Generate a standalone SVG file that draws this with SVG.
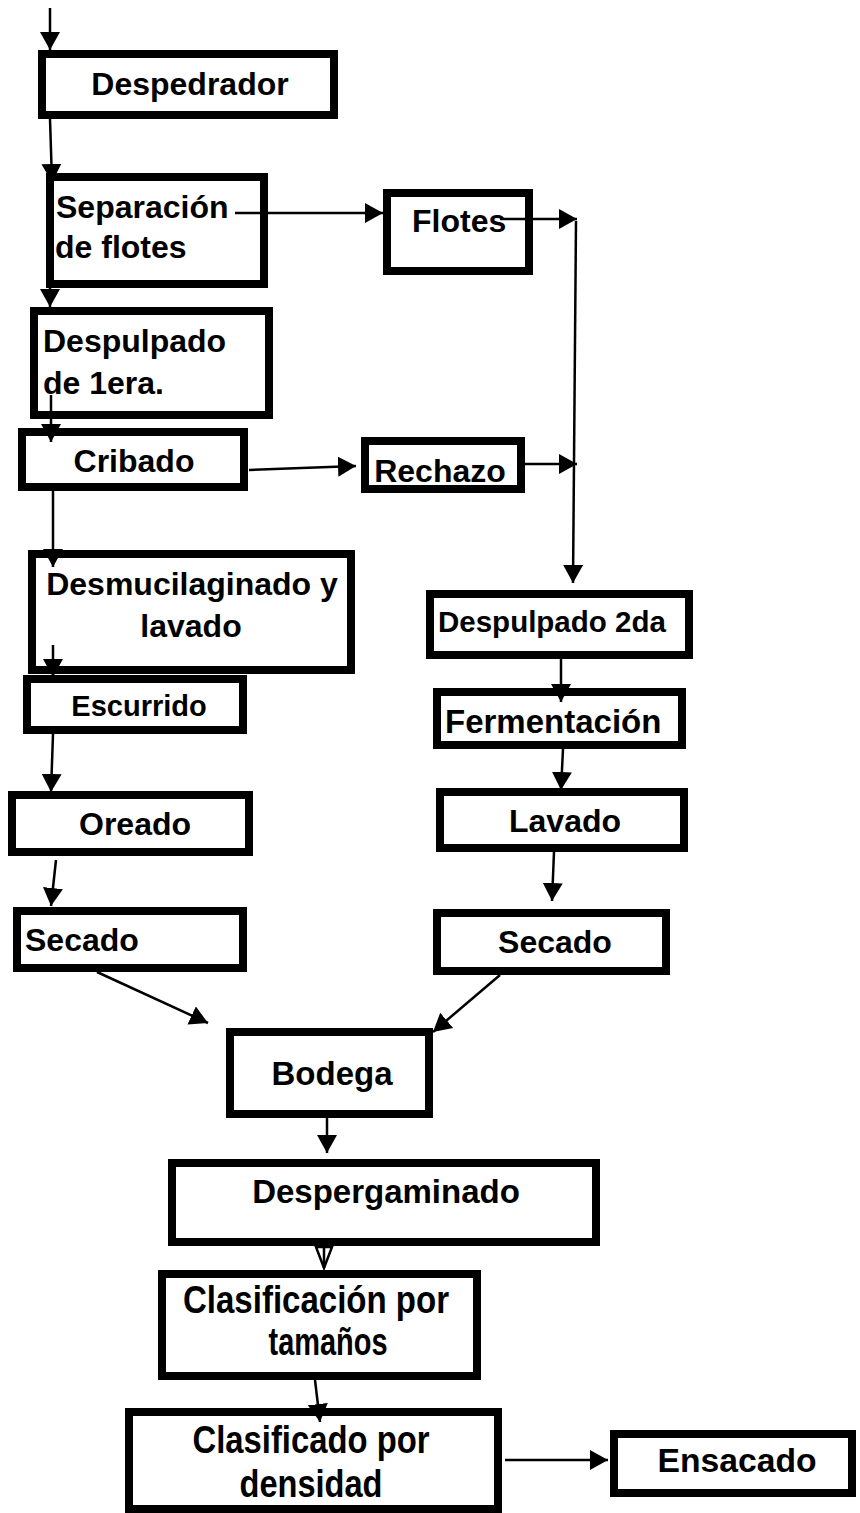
<svg xmlns="http://www.w3.org/2000/svg" width="860" height="1513" viewBox="0 0 860 1513">
<style>
.box{fill:#fff;stroke:#000;stroke-width:8}
.t{font-family:"Liberation Sans",Arial,Helvetica,sans-serif;font-weight:bold;font-size:32px;fill:#000}
.c{stroke:#000;stroke-width:2.5;fill:none}
</style>
<defs>
<marker id="ah" markerUnits="userSpaceOnUse" markerWidth="18" markerHeight="20" refX="18" refY="10" orient="auto">
<path d="M0,0 L18,10 L0,20 z" fill="#000"/>
</marker>
</defs>
<rect width="860" height="1513" fill="#fff"/>
<g id="n-despedrador"><rect class="box" x="42" y="54" width="292" height="61"/><text class="t" x="190" y="95" text-anchor="middle">Despedrador</text></g>
<g id="n-separacion"><rect class="box" x="50" y="177" width="214" height="107"/><text class="t" x="56" y="218">Separación</text><text class="t" x="55" y="258">de flotes</text></g>
<g id="n-flotes"><rect class="box" x="387" y="193" width="142" height="78"/><text class="t" x="412" y="232">Flotes</text></g>
<g id="n-despulpado1"><rect class="box" x="34" y="311" width="235" height="104"/><text class="t" x="43" y="352">Despulpado</text><text class="t" x="43" y="394">de 1era.</text></g>
<g id="n-cribado"><rect class="box" x="22" y="432" width="222" height="55"/><text class="t" x="134" y="472" text-anchor="middle">Cribado</text></g>
<g id="n-rechazo"><rect class="box" x="365" y="441" width="156" height="48"/><text class="t" x="440" y="482" text-anchor="middle">Rechazo</text></g>
<g id="n-desmucilaginado"><rect class="box" x="32" y="554" width="319" height="116"/><text class="t" x="192" y="595" text-anchor="middle">Desmucilaginado y</text><text class="t" x="191" y="637" text-anchor="middle">lavado</text></g>
<g id="n-escurrido"><rect class="box" x="27" y="679" width="216" height="51"/><text class="t" x="139" y="716" text-anchor="middle" style="font-size:29px">Escurrido</text></g>
<g id="n-oreado"><rect class="box" x="12" y="795" width="237" height="57"/><text class="t" x="135" y="835" text-anchor="middle">Oreado</text></g>
<g id="n-secado-l"><rect class="box" x="17" y="911" width="226" height="57"/><text class="t" x="25" y="951">Secado</text></g>
<g id="n-despulpado2"><rect class="box" x="430" y="594" width="259" height="61"/><text class="t" x="438" y="632" style="font-size:29.5px">Despulpado 2da</text></g>
<g id="n-fermentacion"><rect class="box" x="437" y="692" width="245" height="53"/><text class="t" x="445" y="733" style="font-size:33px">Fermentación</text></g>
<g id="n-lavado"><rect class="box" x="440" y="792" width="244" height="56"/><text class="t" x="565" y="832" text-anchor="middle">Lavado</text></g>
<g id="n-secado-r"><rect class="box" x="437" y="913" width="229" height="58"/><text class="t" x="555" y="953" text-anchor="middle">Secado</text></g>
<g id="n-bodega"><rect class="box" x="230" y="1032" width="199" height="82"/><text class="t" x="332" y="1085" text-anchor="middle" style="font-size:33px">Bodega</text></g>
<g id="n-despergaminado"><rect class="box" x="172" y="1163" width="424" height="79"/><text class="t" x="386" y="1203" text-anchor="middle" style="font-size:33px">Despergaminado</text></g>
<g id="n-clasificacion"><rect class="box" x="162" y="1274" width="315" height="102"/><text class="t" x="316" y="1313" text-anchor="middle" style="font-size:38px" textLength="266" lengthAdjust="spacingAndGlyphs">Clasificación por</text><text class="t" x="328" y="1355" text-anchor="middle" style="font-size:38px" textLength="119" lengthAdjust="spacingAndGlyphs">tamaños</text></g>
<g id="n-clasificado"><rect class="box" x="129" y="1412" width="369" height="97"/><text class="t" x="311" y="1453" text-anchor="middle" style="font-size:38px" textLength="237" lengthAdjust="spacingAndGlyphs">Clasificado por</text><text class="t" x="311" y="1497" text-anchor="middle" style="font-size:38px" textLength="143" lengthAdjust="spacingAndGlyphs">densidad</text></g>
<g id="n-ensacado"><rect class="box" x="614" y="1434" width="238" height="59"/><text class="t" x="737" y="1472" text-anchor="middle" style="font-size:34px" textLength="159" lengthAdjust="spacingAndGlyphs">Ensacado</text></g>
<g id="connectors">
<line class="c" x1="50" y1="8" x2="50" y2="50" marker-end="url(#ah)"/>
<line class="c" x1="50" y1="119" x2="52" y2="182" marker-end="url(#ah)"/>
<line class="c" x1="50" y1="180" x2="50" y2="307" marker-end="url(#ah)"/>
<line class="c" x1="235" y1="213" x2="383" y2="213" marker-end="url(#ah)"/>
<line class="c" x1="500" y1="219" x2="577" y2="219" marker-end="url(#ah)"/>
<line class="c" x1="576" y1="221" x2="573" y2="583" marker-end="url(#ah)"/>
<line class="c" x1="525" y1="464" x2="577" y2="464" marker-end="url(#ah)"/>
<line class="c" x1="51" y1="395" x2="51" y2="442" marker-end="url(#ah)"/>
<line class="c" x1="249" y1="470" x2="356" y2="466" marker-end="url(#ah)"/>
<line class="c" x1="53" y1="491" x2="53" y2="567" marker-end="url(#ah)"/>
<line class="c" x1="53" y1="645" x2="53" y2="677" marker-end="url(#ah)"/>
<line class="c" x1="53" y1="734" x2="51" y2="792" marker-end="url(#ah)"/>
<line class="c" x1="56" y1="860" x2="51" y2="906" marker-end="url(#ah)"/>
<line class="c" x1="97" y1="972" x2="208" y2="1023" marker-end="url(#ah)"/>
<line class="c" x1="500" y1="975" x2="433" y2="1032" marker-end="url(#ah)"/>
<line class="c" x1="561" y1="659" x2="561" y2="702" marker-end="url(#ah)"/>
<line class="c" x1="563" y1="749" x2="561" y2="790" marker-end="url(#ah)"/>
<line class="c" x1="554" y1="852" x2="552" y2="901" marker-end="url(#ah)"/>
<line class="c" x1="327" y1="1118" x2="327" y2="1153" marker-end="url(#ah)"/>
<polygon points="316,1247 332,1247 324,1268" fill="#fff" stroke="#000" stroke-width="2.5"/>
<line class="c" x1="324" y1="1244" x2="324" y2="1268"/>
<line class="c" x1="315" y1="1380" x2="320" y2="1422" marker-end="url(#ah)"/>
<line class="c" x1="505" y1="1460" x2="608" y2="1460" marker-end="url(#ah)"/>
</g>
</svg>
